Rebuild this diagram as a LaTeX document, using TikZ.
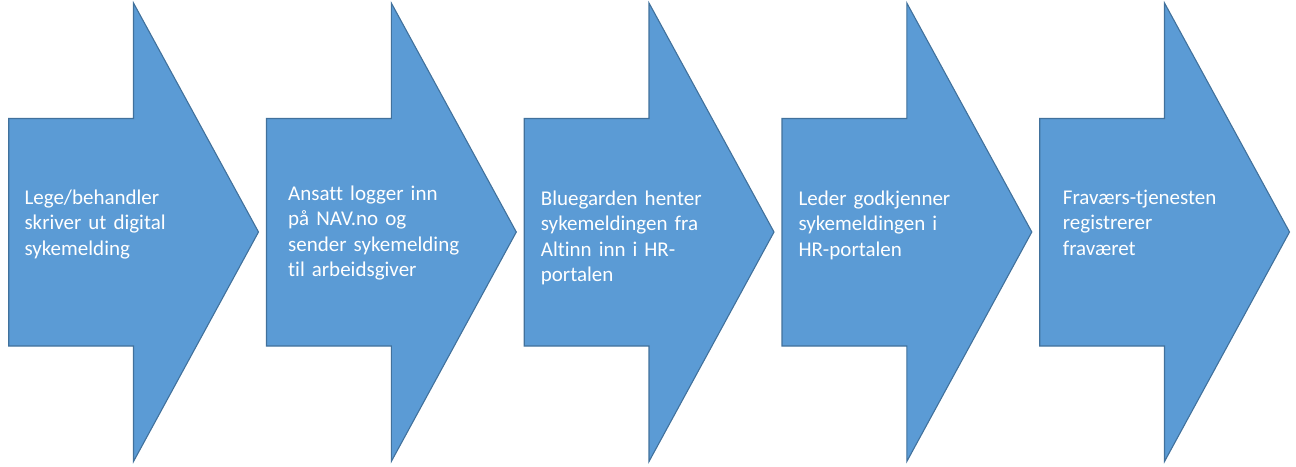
\documentclass[tikz,border=0pt]{standalone}
\usepackage{fontspec}
\setmainfont{Carlito}[Ligatures=NoCommon]
\definecolor{arrowfill}{HTML}{5B9BD5}
\definecolor{arrowline}{HTML}{41719C}
\begin{document}
\begin{tikzpicture}[x=1pt,y=-1pt,
  bigarrow/.style={fill=arrowfill,draw=arrowline,line width=1.1pt,line join=miter},
  steptext/.style={anchor=base west,inner sep=0pt,text=white,align=left,text width=230pt,
    font=\fontsize{21}{25.6}\selectfont}]
\useasboundingbox (0,0) rectangle (1296,466);
\foreach \i/\x in {1/8.7,2/266.5,3/524.2,4/782,5/1039.7}{
  \draw[bigarrow] (\x,118.5) -- ++(124.8,0) -- ++(0,-115.5) -- ++(125,229) -- ++(-125,229.5)
     -- ++(0,-115.5) -- ++(-124.8,0) -- cycle;
}
\node[steptext] (t1) at (24.3,204.3) {Lege/behandler\\skriver ut digital\\sykemelding};
\node[steptext] (t2) at (288,200) {Ansatt logger inn\\på NAV.no og\\sender sykemelding\\til arbeidsgiver};
\node[steptext] (t3) at (540.7,205) {Bluegarden henter\\sykemeldingen fra\\Altinn inn i HR-\\portalen};
\node[steptext] (t4) at (798.3,205) {Leder godkjenner\\sykemeldingen i\\HR-portalen};
\node[steptext] (t5) at (1062.7,204.3) {Fraværs-tjenesten\\registrerer\\fraværet};
\end{tikzpicture}
\end{document}
